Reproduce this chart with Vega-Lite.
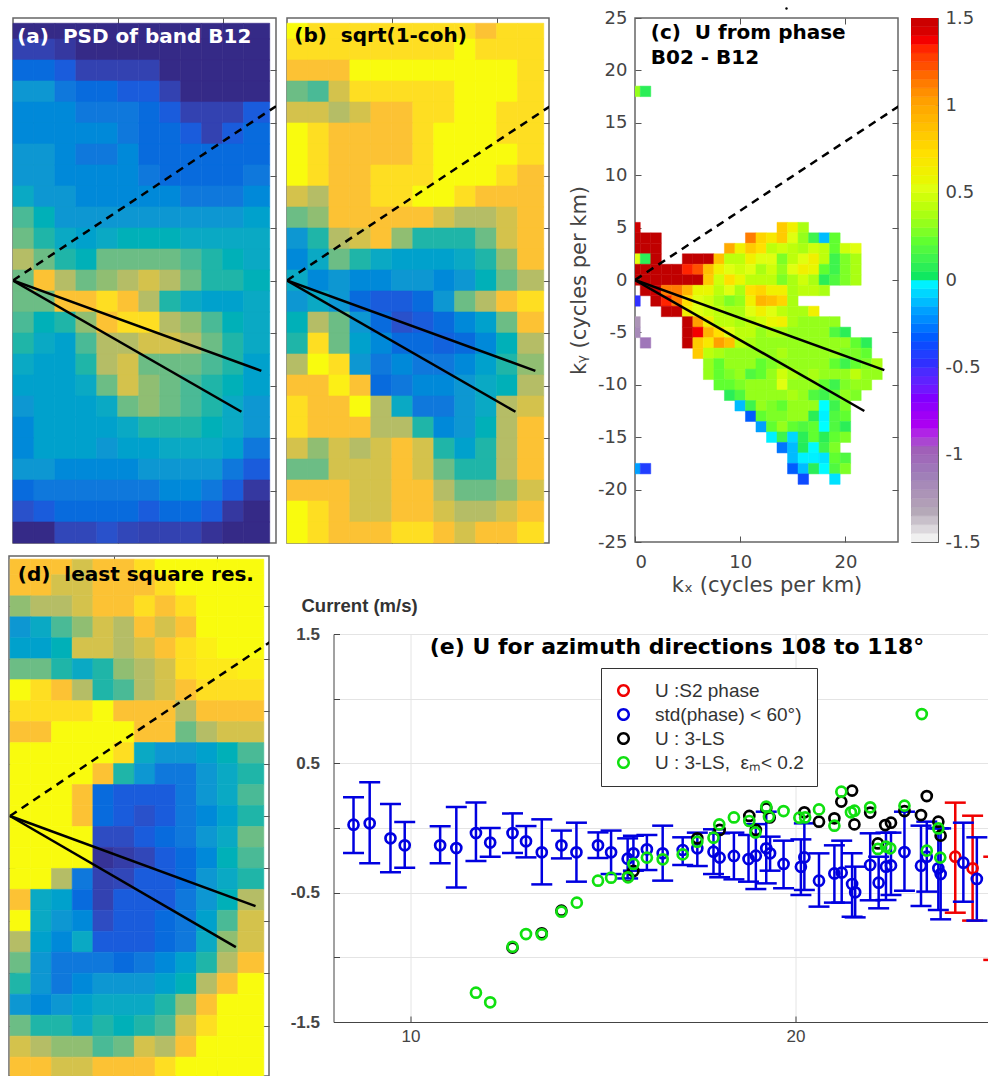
{"$schema":"https://vega.github.io/schema/vega-lite/v6.json","background":"white","padding":{"left":6,"top":6,"right":0,"bottom":0},"config":{"view":{"stroke":"#666","strokeWidth":1.5}},
"datasets":{
"sol":[{"g":1,"x":0,"y":0},{"g":1,"x":23.7,"y":-8.6},{"g":2,"x":0,"y":0},{"g":2,"x":21.8,"y":-12.5}],
"dash":[{"x":0,"y":0},{"x":25.1,"y":16.6}],
"bar":[{"v":-1.5},{"v":-1.45},{"v":-1.4},{"v":-1.35},{"v":-1.3},{"v":-1.25},{"v":-1.2},{"v":-1.15},{"v":-1.1},{"v":-1.05},{"v":-1},{"v":-0.95},{"v":-0.9},{"v":-0.85},{"v":-0.8},{"v":-0.75},{"v":-0.7},{"v":-0.65},{"v":-0.6},{"v":-0.55},{"v":-0.5},{"v":-0.45},{"v":-0.4},{"v":-0.35},{"v":-0.3},{"v":-0.25},{"v":-0.2},{"v":-0.15},{"v":-0.1},{"v":-0.05},{"v":0},{"v":0.05},{"v":0.1},{"v":0.15},{"v":0.2},{"v":0.25},{"v":0.3},{"v":0.35},{"v":0.4},{"v":0.45},{"v":0.5},{"v":0.55},{"v":0.6},{"v":0.65},{"v":0.7},{"v":0.75},{"v":0.8},{"v":0.85},{"v":0.9},{"v":0.95},{"v":1},{"v":1.05},{"v":1.1},{"v":1.15},{"v":1.2},{"v":1.25},{"v":1.3},{"v":1.35},{"v":1.4},{"v":1.45}],
"a":[
{"x":0,"y":23,"v":0},{"x":2,"y":23,"v":0},{"x":4,"y":23,"v":0},{"x":6,"y":23,"v":0},{"x":8,"y":23,"v":0},{"x":10,"y":23,"v":0},{"x":12,"y":23,"v":0},{"x":14,"y":23,"v":0},{"x":16,"y":23,"v":0},{"x":18,"y":23,"v":0},{"x":20,"y":23,"v":0},{"x":22,"y":23,"v":0},
{"x":0,"y":21,"v":0.5},{"x":2,"y":21,"v":0.5},{"x":4,"y":21,"v":0.3},{"x":6,"y":21,"v":0},{"x":8,"y":21,"v":0},{"x":10,"y":21,"v":0},{"x":12,"y":21,"v":0},{"x":14,"y":21,"v":0},{"x":16,"y":21,"v":0},{"x":18,"y":21,"v":0},{"x":20,"y":21,"v":0},{"x":22,"y":21,"v":0},
{"x":0,"y":19,"v":1.5},{"x":2,"y":19,"v":1.5},{"x":4,"y":19,"v":1},{"x":6,"y":19,"v":0.5},{"x":8,"y":19,"v":0.5},{"x":10,"y":19,"v":0.5},{"x":12,"y":19,"v":0.5},{"x":14,"y":19,"v":0},{"x":16,"y":19,"v":0},{"x":18,"y":19,"v":0},{"x":20,"y":19,"v":0},{"x":22,"y":19,"v":0},
{"x":0,"y":17,"v":3},{"x":2,"y":17,"v":3},{"x":4,"y":17,"v":2},{"x":6,"y":17,"v":1.5},{"x":8,"y":17,"v":1.5},{"x":10,"y":17,"v":1},{"x":12,"y":17,"v":1},{"x":14,"y":17,"v":0.5},{"x":16,"y":17,"v":0},{"x":18,"y":17,"v":0},{"x":20,"y":17,"v":0},{"x":22,"y":17,"v":0},
{"x":0,"y":15,"v":2.5},{"x":2,"y":15,"v":2.5},{"x":4,"y":15,"v":2.5},{"x":6,"y":15,"v":2},{"x":8,"y":15,"v":2},{"x":10,"y":15,"v":2},{"x":12,"y":15,"v":1.5},{"x":14,"y":15,"v":1},{"x":16,"y":15,"v":0.5},{"x":18,"y":15,"v":0.5},{"x":20,"y":15,"v":0.5},{"x":22,"y":15,"v":1},
{"x":0,"y":13,"v":2.5},{"x":2,"y":13,"v":2.5},{"x":4,"y":13,"v":2.5},{"x":6,"y":13,"v":2.5},{"x":8,"y":13,"v":2.5},{"x":10,"y":13,"v":2},{"x":12,"y":13,"v":1.5},{"x":14,"y":13,"v":1.5},{"x":16,"y":13,"v":1},{"x":18,"y":13,"v":0.5},{"x":20,"y":13,"v":1},{"x":22,"y":13,"v":1.5},
{"x":0,"y":11,"v":3},{"x":2,"y":11,"v":3},{"x":4,"y":11,"v":2.5},{"x":6,"y":11,"v":2},{"x":8,"y":11,"v":2},{"x":10,"y":11,"v":2.5},{"x":12,"y":11,"v":1.5},{"x":14,"y":11,"v":1.5},{"x":16,"y":11,"v":1.5},{"x":18,"y":11,"v":1.5},{"x":20,"y":11,"v":1.5},{"x":22,"y":11,"v":1.5},
{"x":0,"y":9,"v":3},{"x":2,"y":9,"v":3},{"x":4,"y":9,"v":2.5},{"x":6,"y":9,"v":2.5},{"x":8,"y":9,"v":2.5},{"x":10,"y":9,"v":2.5},{"x":12,"y":9,"v":2},{"x":14,"y":9,"v":1.5},{"x":16,"y":9,"v":1.5},{"x":18,"y":9,"v":1.5},{"x":20,"y":9,"v":1.5},{"x":22,"y":9,"v":2},
{"x":0,"y":7,"v":4},{"x":2,"y":7,"v":3},{"x":4,"y":7,"v":3},{"x":6,"y":7,"v":2.5},{"x":8,"y":7,"v":2.5},{"x":10,"y":7,"v":2.5},{"x":12,"y":7,"v":2.5},{"x":14,"y":7,"v":2.5},{"x":16,"y":7,"v":2},{"x":18,"y":7,"v":2},{"x":20,"y":7,"v":2},{"x":22,"y":7,"v":2.5},
{"x":0,"y":5,"v":5.5},{"x":2,"y":5,"v":4.5},{"x":4,"y":5,"v":3},{"x":6,"y":5,"v":3},{"x":8,"y":5,"v":3},{"x":10,"y":5,"v":3},{"x":12,"y":5,"v":3},{"x":14,"y":5,"v":3},{"x":16,"y":5,"v":3},{"x":18,"y":5,"v":3},{"x":20,"y":5,"v":3},{"x":22,"y":5,"v":3.5},
{"x":0,"y":3,"v":6},{"x":2,"y":3,"v":5},{"x":4,"y":3,"v":4},{"x":6,"y":3,"v":3.5},{"x":8,"y":3,"v":4},{"x":10,"y":3,"v":4.5},{"x":12,"y":3,"v":4.5},{"x":14,"y":3,"v":4.5},{"x":16,"y":3,"v":4},{"x":18,"y":3,"v":4},{"x":20,"y":3,"v":4},{"x":22,"y":3,"v":4},
{"x":0,"y":1,"v":7},{"x":2,"y":1,"v":6},{"x":4,"y":1,"v":5},{"x":6,"y":1,"v":4.5},{"x":8,"y":1,"v":6},{"x":10,"y":1,"v":6},{"x":12,"y":1,"v":6},{"x":14,"y":1,"v":6},{"x":16,"y":1,"v":5.5},{"x":18,"y":1,"v":5},{"x":20,"y":1,"v":4.5},{"x":22,"y":1,"v":4},
{"x":0,"y":-1,"v":6},{"x":2,"y":-1,"v":8},{"x":4,"y":-1,"v":7},{"x":6,"y":-1,"v":6},{"x":8,"y":-1,"v":6.5},{"x":10,"y":-1,"v":7},{"x":12,"y":-1,"v":7.5},{"x":14,"y":-1,"v":7},{"x":16,"y":-1,"v":6},{"x":18,"y":-1,"v":5},{"x":20,"y":-1,"v":5},{"x":22,"y":-1,"v":4.5},
{"x":0,"y":-3,"v":6},{"x":2,"y":-3,"v":6},{"x":4,"y":-3,"v":8},{"x":6,"y":-3,"v":8},{"x":8,"y":-3,"v":8.5},{"x":10,"y":-3,"v":8},{"x":12,"y":-3,"v":7},{"x":14,"y":-3,"v":5},{"x":16,"y":-3,"v":4},{"x":18,"y":-3,"v":3.5},{"x":20,"y":-3,"v":3.5},{"x":22,"y":-3,"v":4},
{"x":0,"y":-5,"v":5.5},{"x":2,"y":-5,"v":4.5},{"x":4,"y":-5,"v":5},{"x":6,"y":-5,"v":6.5},{"x":8,"y":-5,"v":8},{"x":10,"y":-5,"v":8.5},{"x":12,"y":-5,"v":8.5},{"x":14,"y":-5,"v":7},{"x":16,"y":-5,"v":6.5},{"x":18,"y":-5,"v":5.5},{"x":20,"y":-5,"v":4.5},{"x":22,"y":-5,"v":4},
{"x":0,"y":-7,"v":5},{"x":2,"y":-7,"v":4},{"x":4,"y":-7,"v":3.5},{"x":6,"y":-7,"v":5.5},{"x":8,"y":-7,"v":7},{"x":10,"y":-7,"v":7},{"x":12,"y":-7,"v":7.5},{"x":14,"y":-7,"v":7.5},{"x":16,"y":-7,"v":7},{"x":18,"y":-7,"v":6},{"x":20,"y":-7,"v":5},{"x":22,"y":-7,"v":4},
{"x":0,"y":-9,"v":4},{"x":2,"y":-9,"v":3.5},{"x":4,"y":-9,"v":3.5},{"x":6,"y":-9,"v":5},{"x":8,"y":-9,"v":7},{"x":10,"y":-9,"v":7.5},{"x":12,"y":-9,"v":6},{"x":14,"y":-9,"v":6},{"x":16,"y":-9,"v":6},{"x":18,"y":-9,"v":5.5},{"x":20,"y":-9,"v":5},{"x":22,"y":-9,"v":3.5},
{"x":0,"y":-11,"v":3.5},{"x":2,"y":-11,"v":3.5},{"x":4,"y":-11,"v":3.5},{"x":6,"y":-11,"v":4},{"x":8,"y":-11,"v":6},{"x":10,"y":-11,"v":7.5},{"x":12,"y":-11,"v":6.5},{"x":14,"y":-11,"v":6},{"x":16,"y":-11,"v":5.5},{"x":18,"y":-11,"v":5},{"x":20,"y":-11,"v":4.5},{"x":22,"y":-11,"v":3.5},
{"x":0,"y":-13,"v":3},{"x":2,"y":-13,"v":3.5},{"x":4,"y":-13,"v":3.5},{"x":6,"y":-13,"v":3.5},{"x":8,"y":-13,"v":4},{"x":10,"y":-13,"v":6},{"x":12,"y":-13,"v":6.5},{"x":14,"y":-13,"v":6},{"x":16,"y":-13,"v":5.5},{"x":18,"y":-13,"v":5},{"x":20,"y":-13,"v":4},{"x":22,"y":-13,"v":3},
{"x":0,"y":-15,"v":2.5},{"x":2,"y":-15,"v":3.5},{"x":4,"y":-15,"v":3.5},{"x":6,"y":-15,"v":3.5},{"x":8,"y":-15,"v":3.5},{"x":10,"y":-15,"v":4},{"x":12,"y":-15,"v":5},{"x":14,"y":-15,"v":5},{"x":16,"y":-15,"v":5},{"x":18,"y":-15,"v":4.5},{"x":20,"y":-15,"v":4},{"x":22,"y":-15,"v":3},
{"x":0,"y":-17,"v":2.5},{"x":2,"y":-17,"v":3.5},{"x":4,"y":-17,"v":3.5},{"x":6,"y":-17,"v":3.5},{"x":8,"y":-17,"v":3},{"x":10,"y":-17,"v":3.5},{"x":12,"y":-17,"v":3.5},{"x":14,"y":-17,"v":4},{"x":16,"y":-17,"v":4},{"x":18,"y":-17,"v":4},{"x":20,"y":-17,"v":3.5},{"x":22,"y":-17,"v":2},
{"x":0,"y":-19,"v":3},{"x":2,"y":-19,"v":3},{"x":4,"y":-19,"v":2.5},{"x":6,"y":-19,"v":2.5},{"x":8,"y":-19,"v":2.5},{"x":10,"y":-19,"v":2.5},{"x":12,"y":-19,"v":3},{"x":14,"y":-19,"v":3},{"x":16,"y":-19,"v":3},{"x":18,"y":-19,"v":3},{"x":20,"y":-19,"v":2},{"x":22,"y":-19,"v":1},
{"x":0,"y":-21,"v":1.5},{"x":2,"y":-21,"v":2},{"x":4,"y":-21,"v":2},{"x":6,"y":-21,"v":2},{"x":8,"y":-21,"v":2},{"x":10,"y":-21,"v":2},{"x":12,"y":-21,"v":2},{"x":14,"y":-21,"v":2.5},{"x":16,"y":-21,"v":2.5},{"x":18,"y":-21,"v":2},{"x":20,"y":-21,"v":1},{"x":22,"y":-21,"v":0.3},
{"x":0,"y":-23,"v":0.8},{"x":2,"y":-23,"v":1},{"x":4,"y":-23,"v":1.5},{"x":6,"y":-23,"v":1.5},{"x":8,"y":-23,"v":1.5},{"x":10,"y":-23,"v":1.5},{"x":12,"y":-23,"v":1},{"x":14,"y":-23,"v":1.5},{"x":16,"y":-23,"v":1.5},{"x":18,"y":-23,"v":1},{"x":20,"y":-23,"v":0.3},{"x":22,"y":-23,"v":0},
{"x":0,"y":-25,"v":0},{"x":2,"y":-25,"v":0},{"x":4,"y":-25,"v":0.6},{"x":6,"y":-25,"v":0.6},{"x":8,"y":-25,"v":0.8},{"x":10,"y":-25,"v":0.6},{"x":12,"y":-25,"v":0.5},{"x":14,"y":-25,"v":0.5},{"x":16,"y":-25,"v":0.5},{"x":18,"y":-25,"v":0.2},{"x":20,"y":-25,"v":0},{"x":22,"y":-25,"v":0}
],
"b":[
{"x":0,"y":23,"v":9},{"x":2,"y":23,"v":8.5},{"x":4,"y":23,"v":8.5},{"x":6,"y":23,"v":8.5},{"x":8,"y":23,"v":8.5},{"x":10,"y":23,"v":8.5},{"x":12,"y":23,"v":8.5},{"x":14,"y":23,"v":8.5},{"x":16,"y":23,"v":8.5},{"x":18,"y":23,"v":8},{"x":20,"y":23,"v":8.5},{"x":22,"y":23,"v":8.5},
{"x":0,"y":21,"v":8.5},{"x":2,"y":21,"v":8.5},{"x":4,"y":21,"v":8.5},{"x":6,"y":21,"v":8.5},{"x":8,"y":21,"v":8.5},{"x":10,"y":21,"v":8.5},{"x":12,"y":21,"v":8.5},{"x":14,"y":21,"v":8.5},{"x":16,"y":21,"v":9},{"x":18,"y":21,"v":8.5},{"x":20,"y":21,"v":8.5},{"x":22,"y":21,"v":8.5},
{"x":0,"y":19,"v":8},{"x":2,"y":19,"v":8},{"x":4,"y":19,"v":8},{"x":6,"y":19,"v":9},{"x":8,"y":19,"v":9},{"x":10,"y":19,"v":9},{"x":12,"y":19,"v":9},{"x":14,"y":19,"v":9},{"x":16,"y":19,"v":9},{"x":18,"y":19,"v":9},{"x":20,"y":19,"v":9},{"x":22,"y":19,"v":8.5},
{"x":0,"y":17,"v":6},{"x":2,"y":17,"v":5.5},{"x":4,"y":17,"v":7.5},{"x":6,"y":17,"v":8.5},{"x":8,"y":17,"v":8.5},{"x":10,"y":17,"v":8.5},{"x":12,"y":17,"v":8.5},{"x":14,"y":17,"v":8.5},{"x":16,"y":17,"v":9},{"x":18,"y":17,"v":9},{"x":20,"y":17,"v":9},{"x":22,"y":17,"v":8.5},
{"x":0,"y":15,"v":7.5},{"x":2,"y":15,"v":7.5},{"x":4,"y":15,"v":7},{"x":6,"y":15,"v":7.5},{"x":8,"y":15,"v":8},{"x":10,"y":15,"v":8},{"x":12,"y":15,"v":8.5},{"x":14,"y":15,"v":8.5},{"x":16,"y":15,"v":9},{"x":18,"y":15,"v":9},{"x":20,"y":15,"v":8.5},{"x":22,"y":15,"v":8.5},
{"x":0,"y":13,"v":9},{"x":2,"y":13,"v":8.5},{"x":4,"y":13,"v":8},{"x":6,"y":13,"v":8},{"x":8,"y":13,"v":8},{"x":10,"y":13,"v":8},{"x":12,"y":13,"v":8.5},{"x":14,"y":13,"v":9},{"x":16,"y":13,"v":9},{"x":18,"y":13,"v":9},{"x":20,"y":13,"v":8.5},{"x":22,"y":13,"v":8.5},
{"x":0,"y":11,"v":9},{"x":2,"y":11,"v":8.5},{"x":4,"y":11,"v":8},{"x":6,"y":11,"v":8},{"x":8,"y":11,"v":8},{"x":10,"y":11,"v":8},{"x":12,"y":11,"v":8.5},{"x":14,"y":11,"v":9},{"x":16,"y":11,"v":9},{"x":18,"y":11,"v":9},{"x":20,"y":11,"v":9},{"x":22,"y":11,"v":8.5},
{"x":0,"y":9,"v":9},{"x":2,"y":9,"v":8.5},{"x":4,"y":9,"v":8},{"x":6,"y":9,"v":8},{"x":8,"y":9,"v":8.5},{"x":10,"y":9,"v":8.5},{"x":12,"y":9,"v":8.5},{"x":14,"y":9,"v":9},{"x":16,"y":9,"v":9},{"x":18,"y":9,"v":9},{"x":20,"y":9,"v":8.5},{"x":22,"y":9,"v":8},
{"x":0,"y":7,"v":7.5},{"x":2,"y":7,"v":7},{"x":4,"y":7,"v":8},{"x":6,"y":7,"v":8},{"x":8,"y":7,"v":8.5},{"x":10,"y":7,"v":8.5},{"x":12,"y":7,"v":9},{"x":14,"y":7,"v":9},{"x":16,"y":7,"v":8.5},{"x":18,"y":7,"v":8},{"x":20,"y":7,"v":8},{"x":22,"y":7,"v":8},
{"x":0,"y":5,"v":6},{"x":2,"y":5,"v":6.5},{"x":4,"y":5,"v":8},{"x":6,"y":5,"v":8},{"x":8,"y":5,"v":8},{"x":10,"y":5,"v":8},{"x":12,"y":5,"v":8},{"x":14,"y":5,"v":7.5},{"x":16,"y":5,"v":7},{"x":18,"y":5,"v":7},{"x":20,"y":5,"v":7.5},{"x":22,"y":5,"v":8},
{"x":0,"y":3,"v":3},{"x":2,"y":3,"v":5},{"x":4,"y":3,"v":7},{"x":6,"y":3,"v":7.5},{"x":8,"y":3,"v":8},{"x":10,"y":3,"v":6.5},{"x":12,"y":3,"v":5},{"x":14,"y":3,"v":5},{"x":16,"y":3,"v":5},{"x":18,"y":3,"v":6},{"x":20,"y":3,"v":7.5},{"x":22,"y":3,"v":8},
{"x":0,"y":1,"v":2.5},{"x":2,"y":1,"v":4},{"x":4,"y":1,"v":6},{"x":6,"y":1,"v":5},{"x":8,"y":1,"v":4},{"x":10,"y":1,"v":3.5},{"x":12,"y":1,"v":3.5},{"x":14,"y":1,"v":3.5},{"x":16,"y":1,"v":4},{"x":18,"y":1,"v":5},{"x":20,"y":1,"v":6.5},{"x":22,"y":1,"v":8},
{"x":0,"y":-1,"v":4},{"x":2,"y":-1,"v":2.5},{"x":4,"y":-1,"v":3},{"x":6,"y":-1,"v":2.5},{"x":8,"y":-1,"v":2.5},{"x":10,"y":-1,"v":3},{"x":12,"y":-1,"v":3},{"x":14,"y":-1,"v":2.5},{"x":16,"y":-1,"v":3},{"x":18,"y":-1,"v":4.5},{"x":20,"y":-1,"v":6},{"x":22,"y":-1,"v":7},
{"x":0,"y":-3,"v":3},{"x":2,"y":-3,"v":4},{"x":4,"y":-3,"v":3},{"x":6,"y":-3,"v":1.5},{"x":8,"y":-3,"v":1},{"x":10,"y":-3,"v":1},{"x":12,"y":-3,"v":1.5},{"x":14,"y":-3,"v":3},{"x":16,"y":-3,"v":6},{"x":18,"y":-3,"v":7},{"x":20,"y":-3,"v":8},{"x":22,"y":-3,"v":8.5},
{"x":0,"y":-5,"v":4.5},{"x":2,"y":-5,"v":7},{"x":4,"y":-5,"v":6},{"x":6,"y":-5,"v":3},{"x":8,"y":-5,"v":1.5},{"x":10,"y":-5,"v":0.8},{"x":12,"y":-5,"v":1},{"x":14,"y":-5,"v":1.5},{"x":16,"y":-5,"v":2.5},{"x":18,"y":-5,"v":3.5},{"x":20,"y":-5,"v":6},{"x":22,"y":-5,"v":8},
{"x":0,"y":-7,"v":5},{"x":2,"y":-7,"v":8.5},{"x":4,"y":-7,"v":6},{"x":6,"y":-7,"v":3.5},{"x":8,"y":-7,"v":2.5},{"x":10,"y":-7,"v":1.5},{"x":12,"y":-7,"v":1.5},{"x":14,"y":-7,"v":1.2},{"x":16,"y":-7,"v":1.5},{"x":18,"y":-7,"v":2.5},{"x":20,"y":-7,"v":4.5},{"x":22,"y":-7,"v":7},
{"x":0,"y":-9,"v":7},{"x":2,"y":-9,"v":9},{"x":4,"y":-9,"v":8.5},{"x":6,"y":-9,"v":3},{"x":8,"y":-9,"v":2},{"x":10,"y":-9,"v":2.5},{"x":12,"y":-9,"v":2},{"x":14,"y":-9,"v":2},{"x":16,"y":-9,"v":2.5},{"x":18,"y":-9,"v":3.5},{"x":20,"y":-9,"v":5},{"x":22,"y":-9,"v":6.5},
{"x":0,"y":-11,"v":8},{"x":2,"y":-11,"v":8},{"x":4,"y":-11,"v":8.8},{"x":6,"y":-11,"v":8},{"x":8,"y":-11,"v":1.5},{"x":10,"y":-11,"v":2},{"x":12,"y":-11,"v":2.5},{"x":14,"y":-11,"v":2.5},{"x":16,"y":-11,"v":3},{"x":18,"y":-11,"v":4},{"x":20,"y":-11,"v":4.5},{"x":22,"y":-11,"v":7},
{"x":0,"y":-13,"v":8.5},{"x":2,"y":-13,"v":8},{"x":4,"y":-13,"v":8},{"x":6,"y":-13,"v":9},{"x":8,"y":-13,"v":7},{"x":10,"y":-13,"v":4},{"x":12,"y":-13,"v":2},{"x":14,"y":-13,"v":2},{"x":16,"y":-13,"v":3},{"x":18,"y":-13,"v":4},{"x":20,"y":-13,"v":7},{"x":22,"y":-13,"v":7.5},
{"x":0,"y":-15,"v":8.5},{"x":2,"y":-15,"v":8},{"x":4,"y":-15,"v":8},{"x":6,"y":-15,"v":8},{"x":8,"y":-15,"v":7},{"x":10,"y":-15,"v":7},{"x":12,"y":-15,"v":5},{"x":14,"y":-15,"v":2.5},{"x":16,"y":-15,"v":3},{"x":18,"y":-15,"v":4.5},{"x":20,"y":-15,"v":7},{"x":22,"y":-15,"v":8},
{"x":0,"y":-17,"v":7.5},{"x":2,"y":-17,"v":6.5},{"x":4,"y":-17,"v":7.5},{"x":6,"y":-17,"v":7},{"x":8,"y":-17,"v":7.5},{"x":10,"y":-17,"v":8},{"x":12,"y":-17,"v":7.5},{"x":14,"y":-17,"v":5},{"x":16,"y":-17,"v":3.5},{"x":18,"y":-17,"v":5},{"x":20,"y":-17,"v":7},{"x":22,"y":-17,"v":8},
{"x":0,"y":-19,"v":6},{"x":2,"y":-19,"v":6},{"x":4,"y":-19,"v":7.5},{"x":6,"y":-19,"v":7.5},{"x":8,"y":-19,"v":7.5},{"x":10,"y":-19,"v":8},{"x":12,"y":-19,"v":7.5},{"x":14,"y":-19,"v":6},{"x":16,"y":-19,"v":5},{"x":18,"y":-19,"v":5},{"x":20,"y":-19,"v":7},{"x":22,"y":-19,"v":8},
{"x":0,"y":-21,"v":8},{"x":2,"y":-21,"v":8},{"x":4,"y":-21,"v":8},{"x":6,"y":-21,"v":7.5},{"x":8,"y":-21,"v":7.5},{"x":10,"y":-21,"v":8},{"x":12,"y":-21,"v":8},{"x":14,"y":-21,"v":7},{"x":16,"y":-21,"v":6},{"x":18,"y":-21,"v":6},{"x":20,"y":-21,"v":6.5},{"x":22,"y":-21,"v":7.5},
{"x":0,"y":-23,"v":9},{"x":2,"y":-23,"v":8.5},{"x":4,"y":-23,"v":8},{"x":6,"y":-23,"v":7.5},{"x":8,"y":-23,"v":7.5},{"x":10,"y":-23,"v":8},{"x":12,"y":-23,"v":8},{"x":14,"y":-23,"v":7.5},{"x":16,"y":-23,"v":7},{"x":18,"y":-23,"v":7},{"x":20,"y":-23,"v":7.5},{"x":22,"y":-23,"v":8},
{"x":0,"y":-25,"v":9},{"x":2,"y":-25,"v":8.5},{"x":4,"y":-25,"v":8},{"x":6,"y":-25,"v":8},{"x":8,"y":-25,"v":8},{"x":10,"y":-25,"v":8.5},{"x":12,"y":-25,"v":8.5},{"x":14,"y":-25,"v":8},{"x":16,"y":-25,"v":7.5},{"x":18,"y":-25,"v":8},{"x":20,"y":-25,"v":8},{"x":22,"y":-25,"v":8.5}
],
"d":[
{"x":0,"y":23,"v":8},{"x":2,"y":23,"v":8},{"x":4,"y":23,"v":8},{"x":6,"y":23,"v":7.5},{"x":8,"y":23,"v":8},{"x":10,"y":23,"v":8},{"x":12,"y":23,"v":8.5},{"x":14,"y":23,"v":9},{"x":16,"y":23,"v":9},{"x":18,"y":23,"v":9},{"x":20,"y":23,"v":9},{"x":22,"y":23,"v":9},
{"x":0,"y":21,"v":8},{"x":2,"y":21,"v":8},{"x":4,"y":21,"v":7.5},{"x":6,"y":21,"v":7.5},{"x":8,"y":21,"v":8},{"x":10,"y":21,"v":8},{"x":12,"y":21,"v":8},{"x":14,"y":21,"v":8.5},{"x":16,"y":21,"v":9},{"x":18,"y":21,"v":9},{"x":20,"y":21,"v":9},{"x":22,"y":21,"v":9},
{"x":0,"y":19,"v":6.5},{"x":2,"y":19,"v":7},{"x":4,"y":19,"v":7},{"x":6,"y":19,"v":7.5},{"x":8,"y":19,"v":8},{"x":10,"y":19,"v":8},{"x":12,"y":19,"v":8.5},{"x":14,"y":19,"v":8},{"x":16,"y":19,"v":8.5},{"x":18,"y":19,"v":9},{"x":20,"y":19,"v":9},{"x":22,"y":19,"v":9},
{"x":0,"y":17,"v":3},{"x":2,"y":17,"v":4},{"x":4,"y":17,"v":5.5},{"x":6,"y":17,"v":6.5},{"x":8,"y":17,"v":7.5},{"x":10,"y":17,"v":7},{"x":12,"y":17,"v":8},{"x":14,"y":17,"v":7.5},{"x":16,"y":17,"v":8},{"x":18,"y":17,"v":9},{"x":20,"y":17,"v":9},{"x":22,"y":17,"v":9},
{"x":0,"y":15,"v":3.5},{"x":2,"y":15,"v":3.5},{"x":4,"y":15,"v":4.5},{"x":6,"y":15,"v":7.5},{"x":8,"y":15,"v":7.5},{"x":10,"y":15,"v":7},{"x":12,"y":15,"v":7.5},{"x":14,"y":15,"v":8},{"x":16,"y":15,"v":8.5},{"x":18,"y":15,"v":8.8},{"x":20,"y":15,"v":9},{"x":22,"y":15,"v":9},
{"x":0,"y":13,"v":6},{"x":2,"y":13,"v":6},{"x":4,"y":13,"v":5},{"x":6,"y":13,"v":4},{"x":8,"y":13,"v":5},{"x":10,"y":13,"v":6.5},{"x":12,"y":13,"v":7},{"x":14,"y":13,"v":7.5},{"x":16,"y":13,"v":8.5},{"x":18,"y":13,"v":8.7},{"x":20,"y":13,"v":8.7},{"x":22,"y":13,"v":8.8},
{"x":0,"y":11,"v":9},{"x":2,"y":11,"v":8.5},{"x":4,"y":11,"v":8},{"x":6,"y":11,"v":7},{"x":8,"y":11,"v":5},{"x":10,"y":11,"v":5.5},{"x":12,"y":11,"v":7},{"x":14,"y":11,"v":7.5},{"x":16,"y":11,"v":8},{"x":18,"y":11,"v":8.5},{"x":20,"y":11,"v":8.5},{"x":22,"y":11,"v":8.5},
{"x":0,"y":9,"v":8.5},{"x":2,"y":9,"v":8.5},{"x":4,"y":9,"v":8.5},{"x":6,"y":9,"v":8.5},{"x":8,"y":9,"v":9},{"x":10,"y":9,"v":8},{"x":12,"y":9,"v":8},{"x":14,"y":9,"v":8},{"x":16,"y":9,"v":7},{"x":18,"y":9,"v":8},{"x":20,"y":9,"v":8},{"x":22,"y":9,"v":8},
{"x":0,"y":7,"v":8},{"x":2,"y":7,"v":8},{"x":4,"y":7,"v":9},{"x":6,"y":7,"v":9},{"x":8,"y":7,"v":9},{"x":10,"y":7,"v":9},{"x":12,"y":7,"v":8},{"x":14,"y":7,"v":8},{"x":16,"y":7,"v":6},{"x":18,"y":7,"v":7},{"x":20,"y":7,"v":7.5},{"x":22,"y":7,"v":7.5},
{"x":0,"y":5,"v":9},{"x":2,"y":5,"v":9},{"x":4,"y":5,"v":9},{"x":6,"y":5,"v":9},{"x":8,"y":5,"v":9},{"x":10,"y":5,"v":8.5},{"x":12,"y":5,"v":4},{"x":14,"y":5,"v":3},{"x":16,"y":5,"v":3},{"x":18,"y":5,"v":3.5},{"x":20,"y":5,"v":4.5},{"x":22,"y":5,"v":5.5},
{"x":0,"y":3,"v":9},{"x":2,"y":3,"v":9},{"x":4,"y":3,"v":9},{"x":6,"y":3,"v":9},{"x":8,"y":3,"v":8},{"x":10,"y":3,"v":5},{"x":12,"y":3,"v":3},{"x":14,"y":3,"v":2},{"x":16,"y":3,"v":2},{"x":18,"y":3,"v":3},{"x":20,"y":3,"v":4},{"x":22,"y":3,"v":5},
{"x":0,"y":1,"v":9},{"x":2,"y":1,"v":9},{"x":4,"y":1,"v":9},{"x":6,"y":1,"v":8},{"x":8,"y":1,"v":1.5},{"x":10,"y":1,"v":1},{"x":12,"y":1,"v":1},{"x":14,"y":1,"v":1},{"x":16,"y":1,"v":2},{"x":18,"y":1,"v":3},{"x":20,"y":1,"v":4},{"x":22,"y":1,"v":5.5},
{"x":0,"y":-1,"v":9},{"x":2,"y":-1,"v":9},{"x":4,"y":-1,"v":9},{"x":6,"y":-1,"v":8},{"x":8,"y":-1,"v":1.5},{"x":10,"y":-1,"v":1},{"x":12,"y":-1,"v":0.8},{"x":14,"y":-1,"v":1},{"x":16,"y":-1,"v":2},{"x":18,"y":-1,"v":2.5},{"x":20,"y":-1,"v":3.5},{"x":22,"y":-1,"v":5},
{"x":0,"y":-3,"v":9},{"x":2,"y":-3,"v":9},{"x":4,"y":-3,"v":9},{"x":6,"y":-3,"v":9},{"x":8,"y":-3,"v":0.7},{"x":10,"y":-3,"v":0.7},{"x":12,"y":-3,"v":1},{"x":14,"y":-3,"v":1.5},{"x":16,"y":-3,"v":2},{"x":18,"y":-3,"v":3},{"x":20,"y":-3,"v":4},{"x":22,"y":-3,"v":6},
{"x":0,"y":-5,"v":9},{"x":2,"y":-5,"v":9},{"x":4,"y":-5,"v":9},{"x":6,"y":-5,"v":9},{"x":8,"y":-5,"v":0.2},{"x":10,"y":-5,"v":0.4},{"x":12,"y":-5,"v":0.6},{"x":14,"y":-5,"v":1},{"x":16,"y":-5,"v":1.5},{"x":18,"y":-5,"v":2.5},{"x":20,"y":-5,"v":4.5},{"x":22,"y":-5,"v":5.5},
{"x":0,"y":-7,"v":9},{"x":2,"y":-7,"v":9},{"x":4,"y":-7,"v":7},{"x":6,"y":-7,"v":2},{"x":8,"y":-7,"v":0.5},{"x":10,"y":-7,"v":0.6},{"x":12,"y":-7,"v":1},{"x":14,"y":-7,"v":1},{"x":16,"y":-7,"v":1.5},{"x":18,"y":-7,"v":3},{"x":20,"y":-7,"v":4},{"x":22,"y":-7,"v":5},
{"x":0,"y":-9,"v":8},{"x":2,"y":-9,"v":4},{"x":4,"y":-9,"v":3.5},{"x":6,"y":-9,"v":1.5},{"x":8,"y":-9,"v":0.5},{"x":10,"y":-9,"v":1},{"x":12,"y":-9,"v":1},{"x":14,"y":-9,"v":1},{"x":16,"y":-9,"v":2},{"x":18,"y":-9,"v":3},{"x":20,"y":-9,"v":4.5},{"x":22,"y":-9,"v":7},
{"x":0,"y":-11,"v":9},{"x":2,"y":-11,"v":4},{"x":4,"y":-11,"v":3},{"x":6,"y":-11,"v":2.5},{"x":8,"y":-11,"v":0.7},{"x":10,"y":-11,"v":1},{"x":12,"y":-11,"v":1},{"x":14,"y":-11,"v":1.5},{"x":16,"y":-11,"v":2},{"x":18,"y":-11,"v":3.5},{"x":20,"y":-11,"v":5.5},{"x":22,"y":-11,"v":7.5},
{"x":0,"y":-13,"v":7},{"x":2,"y":-13,"v":3.5},{"x":4,"y":-13,"v":2.5},{"x":6,"y":-13,"v":4},{"x":8,"y":-13,"v":1},{"x":10,"y":-13,"v":1},{"x":12,"y":-13,"v":1},{"x":14,"y":-13,"v":1.5},{"x":16,"y":-13,"v":2},{"x":18,"y":-13,"v":4},{"x":20,"y":-13,"v":6.5},{"x":22,"y":-13,"v":7.5},
{"x":0,"y":-15,"v":6},{"x":2,"y":-15,"v":3},{"x":4,"y":-15,"v":2},{"x":6,"y":-15,"v":2},{"x":8,"y":-15,"v":2},{"x":10,"y":-15,"v":1.5},{"x":12,"y":-15,"v":2},{"x":14,"y":-15,"v":2.5},{"x":16,"y":-15,"v":3.5},{"x":18,"y":-15,"v":5},{"x":20,"y":-15,"v":7},{"x":22,"y":-15,"v":8},
{"x":0,"y":-17,"v":5},{"x":2,"y":-17,"v":3},{"x":4,"y":-17,"v":2},{"x":6,"y":-17,"v":2.5},{"x":8,"y":-17,"v":3},{"x":10,"y":-17,"v":3},{"x":12,"y":-17,"v":3},{"x":14,"y":-17,"v":3.5},{"x":16,"y":-17,"v":4.5},{"x":18,"y":-17,"v":7},{"x":20,"y":-17,"v":8},{"x":22,"y":-17,"v":9},
{"x":0,"y":-19,"v":3},{"x":2,"y":-19,"v":2.5},{"x":4,"y":-19,"v":3},{"x":6,"y":-19,"v":3.5},{"x":8,"y":-19,"v":4},{"x":10,"y":-19,"v":4},{"x":12,"y":-19,"v":4},{"x":14,"y":-19,"v":5},{"x":16,"y":-19,"v":6.5},{"x":18,"y":-19,"v":8},{"x":20,"y":-19,"v":9},{"x":22,"y":-19,"v":9},
{"x":0,"y":-21,"v":6},{"x":2,"y":-21,"v":5},{"x":4,"y":-21,"v":5},{"x":6,"y":-21,"v":4},{"x":8,"y":-21,"v":5},{"x":10,"y":-21,"v":4.5},{"x":12,"y":-21,"v":5},{"x":14,"y":-21,"v":5.5},{"x":16,"y":-21,"v":7.5},{"x":18,"y":-21,"v":8.5},{"x":20,"y":-21,"v":9},{"x":22,"y":-21,"v":9},
{"x":0,"y":-23,"v":7.5},{"x":2,"y":-23,"v":7},{"x":4,"y":-23,"v":6.5},{"x":6,"y":-23,"v":6.5},{"x":8,"y":-23,"v":5.5},{"x":10,"y":-23,"v":6},{"x":12,"y":-23,"v":7.5},{"x":14,"y":-23,"v":7},{"x":16,"y":-23,"v":8},{"x":18,"y":-23,"v":9},{"x":20,"y":-23,"v":9},{"x":22,"y":-23,"v":9},
{"x":0,"y":-25,"v":8},{"x":2,"y":-25,"v":8},{"x":4,"y":-25,"v":7.5},{"x":6,"y":-25,"v":7.5},{"x":8,"y":-25,"v":8},{"x":10,"y":-25,"v":8},{"x":12,"y":-25,"v":8},{"x":14,"y":-25,"v":8.5},{"x":16,"y":-25,"v":9},{"x":18,"y":-25,"v":9},{"x":20,"y":-25,"v":9},{"x":22,"y":-25,"v":9}
],
"c":[
{"x":0,"y":18,"v":0.3},{"x":1,"y":18,"v":0.05},
{"x":0,"y":5,"v":1.45},{"x":14,"y":5,"v":0.8},{"x":15,"y":5,"v":0.6},{"x":16,"y":5,"v":0.35},
{"x":0,"y":4,"v":1.5},{"x":1,"y":4,"v":1.5},{"x":2,"y":4,"v":1.5},{"x":11,"y":4,"v":1.1},{"x":12,"y":4,"v":0.75},{"x":13,"y":4,"v":0.65},{"x":14,"y":4,"v":0.8},{"x":15,"y":4,"v":0.5},{"x":16,"y":4,"v":0.3},{"x":17,"y":4,"v":0.1},{"x":18,"y":4,"v":-0.15},{"x":19,"y":4,"v":0.2},
{"x":0,"y":3,"v":1.5},{"x":1,"y":3,"v":1.5},{"x":2,"y":3,"v":1.5},{"x":9,"y":3,"v":0.95},{"x":10,"y":3,"v":0.6},{"x":11,"y":3,"v":0.8},{"x":12,"y":3,"v":0.7},{"x":13,"y":3,"v":0.4},{"x":14,"y":3,"v":0.45},{"x":15,"y":3,"v":0.4},{"x":16,"y":3,"v":0.35},{"x":17,"y":3,"v":0.45},{"x":18,"y":3,"v":0.4},{"x":19,"y":3,"v":0.2},{"x":20,"y":3,"v":0.45},{"x":21,"y":3,"v":0.5},
{"x":0,"y":2,"v":0.5},{"x":1,"y":2,"v":0.05},{"x":2,"y":2,"v":1.5},{"x":5,"y":2,"v":1.5},{"x":6,"y":2,"v":1.5},{"x":7,"y":2,"v":1.5},{"x":8,"y":2,"v":0.85},{"x":9,"y":2,"v":0.4},{"x":10,"y":2,"v":0.4},{"x":11,"y":2,"v":0.6},{"x":12,"y":2,"v":0.5},{"x":13,"y":2,"v":0.5},{"x":14,"y":2,"v":0.25},{"x":15,"y":2,"v":0.4},{"x":16,"y":2,"v":0.5},{"x":17,"y":2,"v":0.6},{"x":18,"y":2,"v":0.4},{"x":19,"y":2,"v":0.1},{"x":20,"y":2,"v":0.25},{"x":21,"y":2,"v":0.35},
{"x":0,"y":1,"v":1.5},{"x":1,"y":1,"v":1.5},{"x":2,"y":1,"v":1.5},{"x":3,"y":1,"v":1.5},{"x":4,"y":1,"v":1.5},{"x":5,"y":1,"v":1.3},{"x":6,"y":1,"v":1.2},{"x":7,"y":1,"v":0.85},{"x":8,"y":1,"v":0.6},{"x":9,"y":1,"v":0.5},{"x":10,"y":1,"v":0.45},{"x":11,"y":1,"v":0.5},{"x":12,"y":1,"v":0.35},{"x":13,"y":1,"v":0.45},{"x":14,"y":1,"v":0.3},{"x":15,"y":1,"v":0.5},{"x":16,"y":1,"v":0.6},{"x":17,"y":1,"v":0.55},{"x":18,"y":1,"v":0.2},{"x":19,"y":1,"v":0.1},{"x":20,"y":1,"v":0.25},{"x":21,"y":1,"v":0.35},
{"x":0,"y":0,"v":1.5},{"x":1,"y":0,"v":1.5},{"x":2,"y":0,"v":1.5},{"x":3,"y":0,"v":1.5},{"x":4,"y":0,"v":1.5},{"x":5,"y":0,"v":1.5},{"x":6,"y":0,"v":1.5},{"x":7,"y":0,"v":0.8},{"x":8,"y":0,"v":0.45},{"x":9,"y":0,"v":0.7},{"x":10,"y":0,"v":0.55},{"x":11,"y":0,"v":0.4},{"x":12,"y":0,"v":0.4},{"x":13,"y":0,"v":0.4},{"x":14,"y":0,"v":0.25},{"x":15,"y":0,"v":0.35},{"x":16,"y":0,"v":0.45},{"x":17,"y":0,"v":0.35},{"x":18,"y":0,"v":0.05},{"x":19,"y":0,"v":0.15},{"x":20,"y":0,"v":0.25},{"x":21,"y":0,"v":0.35},
{"x":1,"y":-1,"v":1.5},{"x":2,"y":-1,"v":1.45},{"x":3,"y":-1,"v":1.1},{"x":4,"y":-1,"v":1.1},{"x":5,"y":-1,"v":0.9},{"x":6,"y":-1,"v":0.55},{"x":7,"y":-1,"v":0.55},{"x":8,"y":-1,"v":0.4},{"x":9,"y":-1,"v":0.5},{"x":10,"y":-1,"v":0.35},{"x":11,"y":-1,"v":0.7},{"x":12,"y":-1,"v":0.75},{"x":13,"y":-1,"v":0.6},{"x":14,"y":-1,"v":0.6},{"x":15,"y":-1,"v":0.35},{"x":16,"y":-1,"v":0.4},{"x":17,"y":-1,"v":0.4},{"x":18,"y":-1,"v":0.35},
{"x":0,"y":-2,"v":-0.5},{"x":2,"y":-2,"v":1.5},{"x":3,"y":-2,"v":1.3},{"x":4,"y":-2,"v":1.1},{"x":5,"y":-2,"v":0.7},{"x":6,"y":-2,"v":0.5},{"x":7,"y":-2,"v":0.45},{"x":8,"y":-2,"v":0.35},{"x":9,"y":-2,"v":0.25},{"x":10,"y":-2,"v":0.3},{"x":11,"y":-2,"v":0.6},{"x":12,"y":-2,"v":0.9},{"x":13,"y":-2,"v":0.85},{"x":14,"y":-2,"v":0.75},{"x":15,"y":-2,"v":0.35},
{"x":3,"y":-3,"v":1.5},{"x":4,"y":-3,"v":1.5},{"x":5,"y":-3,"v":0.6},{"x":6,"y":-3,"v":0.5},{"x":7,"y":-3,"v":0.45},{"x":8,"y":-3,"v":0.4},{"x":9,"y":-3,"v":0.35},{"x":10,"y":-3,"v":0.35},{"x":11,"y":-3,"v":0.5},{"x":12,"y":-3,"v":0.6},{"x":13,"y":-3,"v":0.5},{"x":14,"y":-3,"v":0.4},{"x":15,"y":-3,"v":0.35},{"x":16,"y":-3,"v":0.35},{"x":17,"y":-3,"v":0.6},
{"x":0,"y":-4,"v":-1.25},{"x":5,"y":-4,"v":1.5},{"x":6,"y":-4,"v":1},{"x":7,"y":-4,"v":0.6},{"x":8,"y":-4,"v":0.4},{"x":9,"y":-4,"v":0.4},{"x":10,"y":-4,"v":0.35},{"x":11,"y":-4,"v":0.4},{"x":12,"y":-4,"v":0.45},{"x":13,"y":-4,"v":0.55},{"x":14,"y":-4,"v":0.6},{"x":15,"y":-4,"v":0.35},{"x":16,"y":-4,"v":0.3},{"x":17,"y":-4,"v":0.3},{"x":18,"y":-4,"v":0.3},{"x":19,"y":-4,"v":0.3},
{"x":0,"y":-5,"v":-1.2},{"x":5,"y":-5,"v":1.5},{"x":6,"y":-5,"v":1.35},{"x":7,"y":-5,"v":0.9},{"x":8,"y":-5,"v":0.7},{"x":9,"y":-5,"v":0.5},{"x":10,"y":-5,"v":0.4},{"x":11,"y":-5,"v":0.4},{"x":12,"y":-5,"v":0.3},{"x":13,"y":-5,"v":0.35},{"x":14,"y":-5,"v":0.35},{"x":15,"y":-5,"v":0.3},{"x":16,"y":-5,"v":0.3},{"x":17,"y":-5,"v":0.3},{"x":18,"y":-5,"v":0.3},{"x":19,"y":-5,"v":0.15},{"x":20,"y":-5,"v":0.05},
{"x":1,"y":-6,"v":-1.1},{"x":5,"y":-6,"v":1.5},{"x":6,"y":-6,"v":0.8},{"x":7,"y":-6,"v":0.65},{"x":8,"y":-6,"v":1},{"x":9,"y":-6,"v":0.85},{"x":10,"y":-6,"v":0.4},{"x":11,"y":-6,"v":0.35},{"x":12,"y":-6,"v":0.3},{"x":13,"y":-6,"v":0.3},{"x":14,"y":-6,"v":0.3},{"x":15,"y":-6,"v":0.3},{"x":16,"y":-6,"v":0.3},{"x":17,"y":-6,"v":0.3},{"x":18,"y":-6,"v":0.3},{"x":19,"y":-6,"v":0.3},{"x":20,"y":-6,"v":0.3},{"x":21,"y":-6,"v":0.2},{"x":22,"y":-6,"v":0.05},
{"x":6,"y":-7,"v":0.8},{"x":7,"y":-7,"v":0.4},{"x":8,"y":-7,"v":0.35},{"x":9,"y":-7,"v":0.3},{"x":10,"y":-7,"v":0.3},{"x":11,"y":-7,"v":0.3},{"x":12,"y":-7,"v":0.3},{"x":13,"y":-7,"v":0.3},{"x":14,"y":-7,"v":0.35},{"x":15,"y":-7,"v":0.3},{"x":16,"y":-7,"v":0.3},{"x":17,"y":-7,"v":0.3},{"x":18,"y":-7,"v":0.3},{"x":19,"y":-7,"v":0.3},{"x":20,"y":-7,"v":0.25},{"x":21,"y":-7,"v":0.25},{"x":22,"y":-7,"v":0.2},
{"x":7,"y":-8,"v":0.3},{"x":8,"y":-8,"v":0.2},{"x":9,"y":-8,"v":0.3},{"x":10,"y":-8,"v":0.3},{"x":11,"y":-8,"v":0.3},{"x":12,"y":-8,"v":0.2},{"x":13,"y":-8,"v":0.25},{"x":14,"y":-8,"v":0.3},{"x":15,"y":-8,"v":0.3},{"x":16,"y":-8,"v":0.3},{"x":17,"y":-8,"v":0.3},{"x":18,"y":-8,"v":0.3},{"x":19,"y":-8,"v":0.2},{"x":20,"y":-8,"v":0.1},{"x":21,"y":-8,"v":0.2},{"x":22,"y":-8,"v":0.25},{"x":23,"y":-8,"v":0.35},
{"x":7,"y":-9,"v":0.3},{"x":8,"y":-9,"v":0.2},{"x":9,"y":-9,"v":0.25},{"x":10,"y":-9,"v":0.3},{"x":11,"y":-9,"v":0.15},{"x":12,"y":-9,"v":0.2},{"x":13,"y":-9,"v":0.3},{"x":14,"y":-9,"v":0.45},{"x":15,"y":-9,"v":0.35},{"x":16,"y":-9,"v":0.3},{"x":17,"y":-9,"v":0.35},{"x":18,"y":-9,"v":0.3},{"x":19,"y":-9,"v":0.3},{"x":20,"y":-9,"v":0.3},{"x":21,"y":-9,"v":0.4},{"x":22,"y":-9,"v":0.3},{"x":23,"y":-9,"v":0.3},
{"x":8,"y":-10,"v":0.2},{"x":9,"y":-10,"v":0.2},{"x":10,"y":-10,"v":0.25},{"x":11,"y":-10,"v":0.3},{"x":12,"y":-10,"v":0.3},{"x":13,"y":-10,"v":0.3},{"x":14,"y":-10,"v":0.5},{"x":15,"y":-10,"v":0.3},{"x":16,"y":-10,"v":0.3},{"x":17,"y":-10,"v":0.3},{"x":18,"y":-10,"v":0.2},{"x":19,"y":-10,"v":0.1},{"x":20,"y":-10,"v":0.25},{"x":21,"y":-10,"v":0.3},{"x":22,"y":-10,"v":0.3},
{"x":9,"y":-11,"v":0.05},{"x":10,"y":-11,"v":0.15},{"x":11,"y":-11,"v":0.3},{"x":12,"y":-11,"v":0.3},{"x":13,"y":-11,"v":0.3},{"x":14,"y":-11,"v":0.3},{"x":15,"y":-11,"v":0.35},{"x":16,"y":-11,"v":0.3},{"x":17,"y":-11,"v":0.15},{"x":18,"y":-11,"v":0.1},{"x":19,"y":-11,"v":0.2},{"x":20,"y":-11,"v":0.3},{"x":21,"y":-11,"v":0.25},
{"x":10,"y":-12,"v":-0.15},{"x":11,"y":-12,"v":0.1},{"x":12,"y":-12,"v":0.3},{"x":13,"y":-12,"v":0.25},{"x":14,"y":-12,"v":0.2},{"x":15,"y":-12,"v":0.3},{"x":16,"y":-12,"v":0.3},{"x":17,"y":-12,"v":0.3},{"x":18,"y":-12,"v":-0.02},{"x":19,"y":-12,"v":0.1},{"x":20,"y":-12,"v":0.25},
{"x":11,"y":-13,"v":-0.35},{"x":12,"y":-13,"v":0.2},{"x":13,"y":-13,"v":0.25},{"x":14,"y":-13,"v":0.25},{"x":15,"y":-13,"v":0.3},{"x":16,"y":-13,"v":0.3},{"x":17,"y":-13,"v":0.05},{"x":18,"y":-13,"v":-0.05},{"x":19,"y":-13,"v":0.15},{"x":20,"y":-13,"v":0.2},
{"x":12,"y":-14,"v":-0.2},{"x":13,"y":-14,"v":0.2},{"x":14,"y":-14,"v":0.3},{"x":15,"y":-14,"v":0.2},{"x":16,"y":-14,"v":0.15},{"x":17,"y":-14,"v":0.2},{"x":18,"y":-14,"v":-0.02},{"x":19,"y":-14,"v":0.15},{"x":20,"y":-14,"v":0.05},
{"x":13,"y":-15,"v":-0.05},{"x":14,"y":-15,"v":0.1},{"x":15,"y":-15,"v":-0.1},{"x":16,"y":-15,"v":0.05},{"x":17,"y":-15,"v":0.2},{"x":18,"y":-15,"v":0.05},{"x":19,"y":-15,"v":0.2},{"x":20,"y":-15,"v":0.25},
{"x":14,"y":-16,"v":-0.3},{"x":15,"y":-16,"v":-0.15},{"x":16,"y":-16,"v":0.03},{"x":17,"y":-16,"v":-0.03},{"x":18,"y":-16,"v":0.1},{"x":19,"y":-16,"v":0.25},
{"x":15,"y":-17,"v":-0.15},{"x":16,"y":-17,"v":-0.05},{"x":17,"y":-17,"v":-0.05},{"x":18,"y":-17,"v":-0.08},{"x":19,"y":-17,"v":0.2},{"x":20,"y":-17,"v":0.15},
{"x":0,"y":-18,"v":-0.2},{"x":1,"y":-18,"v":-0.45},{"x":15,"y":-18,"v":-0.35},{"x":16,"y":-18,"v":-0.15},{"x":17,"y":-18,"v":0.05},{"x":18,"y":-18,"v":-0.03},{"x":19,"y":-18,"v":0.15},{"x":20,"y":-18,"v":0.25},
{"x":16,"y":-19,"v":-0.4},{"x":19,"y":-19,"v":-0.08}
],
"pts":[
{"s":"b","x":8.52,"y":0.026,"hi":0.237,"lo":-0.193},{"s":"b","x":8.94,"y":0.036,"hi":0.353,"lo":-0.273},{"s":"b","x":9.48,"y":-0.08,"hi":0.186,"lo":-0.343},{"s":"b","x":9.85,"y":-0.134,"hi":0.046,"lo":-0.307},{"s":"b","x":10.77,"y":-0.134,"hi":0.013,"lo":-0.273},{"s":"b","x":11.19,"y":-0.155,"hi":0.162,"lo":-0.461},{"s":"b","x":11.7,"y":-0.039,"hi":0.198,"lo":-0.255},{"s":"b","x":12.07,"y":-0.113,"hi":0,"lo":-0.222},{"s":"b","x":12.65,"y":-0.039,"hi":0.113,"lo":-0.193},{"s":"b","x":13,"y":-0.103,"hi":0.015,"lo":-0.227},{"s":"b","x":13.41,"y":-0.188,"hi":0.067,"lo":-0.436},{"s":"b","x":13.92,"y":-0.134,"hi":-0.02,"lo":-0.235},{"s":"b","x":14.31,"y":-0.188,"hi":0.041,"lo":-0.415},{"s":"b","x":14.87,"y":-0.134,"hi":-0.034,"lo":-0.232},{"s":"b","x":15.21,"y":-0.188,"hi":-0.02,"lo":-0.356},{"s":"b","x":15.64,"y":-0.237,"hi":-0.08,"lo":-0.39},{"s":"b","x":15.79,"y":-0.196,"hi":-0.06,"lo":-0.33},{"s":"b","x":16.14,"y":-0.165,"hi":-0.054,"lo":-0.325},{"s":"b","x":16.55,"y":-0.196,"hi":0.018,"lo":-0.407},{"s":"b","x":17.07,"y":-0.17,"hi":-0.072,"lo":-0.286},{"s":"b","x":17.45,"y":-0.157,"hi":-0.036,"lo":-0.294},{"s":"b","x":17.87,"y":-0.183,"hi":-0.01,"lo":-0.356},{"s":"b","x":18.03,"y":-0.229,"hi":-0.041,"lo":-0.381},{"s":"b","x":18.4,"y":-0.216,"hi":-0.036,"lo":-0.397},{"s":"b","x":18.78,"y":-0.24,"hi":-0.054,"lo":-0.415},{"s":"b","x":18.97,"y":-0.214,"hi":0.03,"lo":-0.472},{"s":"b","x":19.24,"y":-0.157,"hi":0.126,"lo":-0.428},{"s":"b","x":19.34,"y":-0.196,"hi":-0.067,"lo":-0.33},{"s":"b","x":19.69,"y":-0.278,"hi":-0.098,"lo":-0.466},{"s":"b","x":20.14,"y":-0.3,"hi":-0.088,"lo":-0.518},{"s":"b","x":20.23,"y":-0.227,"hi":0.036,"lo":-0.479},{"s":"b","x":20.61,"y":-0.407,"hi":-0.196,"lo":-0.608},{"s":"b","x":21.01,"y":-0.351,"hi":-0.134,"lo":-0.577},{"s":"b","x":21.2,"y":-0.345,"hi":-0.098,"lo":-0.577},{"s":"b","x":21.47,"y":-0.433,"hi":-0.196,"lo":-0.686},{"s":"b","x":21.55,"y":-0.497,"hi":-0.299,"lo":-0.691},{"s":"b","x":21.94,"y":-0.286,"hi":-0.041,"lo":-0.559},{"s":"b","x":22.16,"y":-0.423,"hi":-0.222,"lo":-0.621},{"s":"b","x":22.35,"y":-0.299,"hi":-0.036,"lo":-0.557},{"s":"b","x":22.48,"y":-0.289,"hi":-0.036,"lo":-0.518},{"s":"b","x":22.83,"y":-0.186,"hi":0.126,"lo":-0.485},{"s":"b","x":23.26,"y":-0.291,"hi":0.018,"lo":-0.603},{"s":"b","x":23.41,"y":-0.222,"hi":0.049,"lo":-0.492},{"s":"b","x":23.71,"y":-0.312,"hi":-0.003,"lo":-0.634},{"s":"b","x":23.77,"y":-0.356,"hi":-0.003,"lo":-0.706},
{"s":"r","x":24.15,"y":-0.222,"hi":0.196,"lo":-0.655},{"s":"r","x":24.6,"y":-0.312,"hi":0.095,"lo":-0.716},{"s":"r","x":25.15,"y":null,"hi":-0.222,"lo":-1.02},
{"s":"b","x":24.36,"y":-0.268,"hi":0.041,"lo":-0.57},{"s":"b","x":24.71,"y":-0.394,"hi":-0.072,"lo":-0.716},
{"s":"k","x":12.65,"y":-0.925},{"s":"k","x":13.41,"y":-0.814},{"s":"k","x":13.92,"y":-0.639},{"s":"k","x":15.65,"y":-0.376},{"s":"k","x":15.79,"y":-0.332},{"s":"k","x":17.45,"y":-0.08},{"s":"k","x":18.03,"y":-0.015},{"s":"k","x":18.8,"y":0.093},{"s":"k","x":18.97,"y":-0.015},{"s":"k","x":19.24,"y":0.152},{"s":"k","x":19.33,"y":0.082},{"s":"k","x":20.23,"y":0.121},{"s":"k","x":20.61,"y":0.049},{"s":"k","x":21.01,"y":0.075},{"s":"k","x":21.19,"y":0.204},{"s":"k","x":21.47,"y":0.289},{"s":"k","x":21.53,"y":0.028},{"s":"k","x":21.94,"y":0.119},{"s":"k","x":22.14,"y":-0.119},{"s":"k","x":22.33,"y":0.023},{"s":"k","x":22.48,"y":0.041},{"s":"k","x":22.83,"y":0.131},{"s":"k","x":23.26,"y":0.1},{"s":"k","x":23.41,"y":0.247},{"s":"k","x":23.71,"y":0.049},{"s":"k","x":23.77,"y":-0.059},
{"s":"g","x":11.7,"y":-1.273},{"s":"g","x":12.07,"y":-1.348},{"s":"g","x":12.65,"y":-0.918},{"s":"g","x":13,"y":-0.82},{"s":"g","x":13.41,"y":-0.822},{"s":"g","x":13.92,"y":-0.647},{"s":"g","x":14.32,"y":-0.577},{"s":"g","x":14.87,"y":-0.407},{"s":"g","x":15.21,"y":-0.384},{"s":"g","x":15.65,"y":-0.381},{"s":"g","x":15.79,"y":-0.278},{"s":"g","x":16.14,"y":-0.229},{"s":"g","x":16.55,"y":-0.242},{"s":"g","x":17.07,"y":-0.204},{"s":"g","x":17.45,"y":-0.106},{"s":"g","x":17.87,"y":-0.075},{"s":"g","x":18.02,"y":0.028},{"s":"g","x":18.4,"y":0.082},{"s":"g","x":18.8,"y":0.054},{"s":"g","x":18.96,"y":-0.034},{"s":"g","x":19.24,"y":0.165},{"s":"g","x":19.31,"y":0.088},{"s":"g","x":19.69,"y":0.131},{"s":"g","x":20.1,"y":0.08},{"s":"g","x":20.25,"y":0.082},{"s":"g","x":20.61,"y":0.144},{"s":"g","x":21.01,"y":0.018},{"s":"g","x":21.19,"y":0.281},{"s":"g","x":21.44,"y":0.121},{"s":"g","x":21.53,"y":0.134},{"s":"g","x":21.94,"y":0.16},{"s":"g","x":22.14,"y":-0.162},{"s":"g","x":22.35,"y":-0.144},{"s":"g","x":22.46,"y":-0.157},{"s":"g","x":22.83,"y":0.173},{"s":"g","x":23.28,"y":0.881},{"s":"g","x":23.41,"y":-0.175},{"s":"g","x":23.71,"y":-0.003},{"s":"g","x":23.76,"y":-0.229}
]
},
"bounds":"flush","spacing":538,"resolve":{"scale":{"color":"independent","stroke":"independent"}},
"vconcat":[
{"bounds":"flush","spacing":278,"resolve":{"scale":{"color":"independent","stroke":"independent"}},"hconcat":[
 {"bounds":"flush","spacing":3,"resolve":{"scale":{"color":"independent","stroke":"independent"}},"hconcat":[
  {"width":1,"height":1,"view":{"stroke":null},"data":{"values":[{"q":0}]},"mark":{"type":"point","opacity":0},"encoding":{}},
  {"width":263,"height":525,"resolve":{"axis":{"x":"independent","y":"independent"}},"layer":[
   {"data":{"name":"a"},"transform":[{"calculate":"datum.x>=22?24.5:datum.x+2","as":"x2"},{"calculate":"min(datum.y+2,24.5)","as":"y2"}],"mark":{"type":"rect","strokeWidth":0.6},
    "encoding":{"x":{"field":"x","type":"quantitative","scale":{"domain":[0,25.1],"nice":false},"axis":{"values":[10,20],"labels":false,"title":null,"domain":false,"grid":false,"tickSize":-6,"tickColor":"#555"}},"x2":{"field":"x2"},
    "y":{"field":"y","type":"quantitative","scale":{"domain":[-25,25],"nice":false},"axis":{"values":[-20,-15,-10,-5,0,5,10,15,20],"labels":false,"title":null,"domain":false,"grid":false,"tickSize":-6,"tickColor":"#555"}},"y2":{"field":"y2"},
    "color":{"field":"v","type":"quantitative","legend":null,"scale":{"domain":[0,1,2,3,4,5,6,7,8,9],"range":["#352a87","#1a5cdc","#0f78dc","#0d97d2","#0aa9c4","#1fb5a8","#6cbd85","#b5bd66","#fcc234","#f9fb0e"]}},
    "stroke":{"field":"v","type":"quantitative","legend":null,"scale":{"domain":[0,1,2,3,4,5,6,7,8,9],"range":["#352a87","#1a5cdc","#0f78dc","#0d97d2","#0aa9c4","#1fb5a8","#6cbd85","#b5bd66","#fcc234","#f9fb0e"]}}}},
   {"data":{"name":"sol"},"mark":{"type":"line","color":"black","strokeWidth":2.5,"clip":true},"encoding":{"detail":{"field":"g"},"x":{"field":"x","type":"quantitative","axis":{"orient":"top","values":[10,20],"labels":false,"title":null,"domain":false,"grid":false,"tickSize":-6,"tickColor":"#555"}},"y":{"field":"y","type":"quantitative","axis":{"orient":"right","values":[-20,-15,-10,-5,0,5,10,15,20],"labels":false,"title":null,"domain":false,"grid":false,"tickSize":-6,"tickColor":"#555"}}}},
   {"data":{"name":"dash"},"mark":{"type":"line","color":"black","strokeWidth":2.5,"strokeDash":[8,6],"clip":true},"encoding":{"x":{"field":"x","type":"quantitative","axis":null},"y":{"field":"y","type":"quantitative","axis":null}}},
   {"data":{"values":[{"x":0.4,"y":23.2,"t":"(a)\u00a0\u00a0PSD of band B12"}]},"mark":{"type":"text","align":"left","baseline":"middle","font":"DejaVu Sans","fontWeight":"bold","fontSize":20,"color":"white"},"encoding":{"x":{"field":"x","type":"quantitative","axis":null},"y":{"field":"y","type":"quantitative","axis":null},"text":{"field":"t"}}}
  ]}
 ]},
 {"bounds":"flush","spacing":86,"resolve":{"scale":{"color":"independent","stroke":"independent"}},"hconcat":[
  {"width":262,"height":525,"resolve":{"axis":{"x":"independent","y":"independent"}},"layer":[
   {"data":{"name":"b"},"transform":[{"calculate":"datum.x>=22?24.5:datum.x+2","as":"x2"},{"calculate":"min(datum.y+2,24.5)","as":"y2"}],"mark":{"type":"rect","strokeWidth":0.6},
    "encoding":{"x":{"field":"x","type":"quantitative","scale":{"domain":[0,25],"nice":false},"axis":{"values":[10,20],"labels":false,"title":null,"domain":false,"grid":false,"tickSize":-6,"tickColor":"#555"}},"x2":{"field":"x2"},
    "y":{"field":"y","type":"quantitative","scale":{"domain":[-25,25],"nice":false},"axis":{"values":[-20,-15,-10,-5,0,5,10,15,20],"labels":false,"title":null,"domain":false,"grid":false,"tickSize":-6,"tickColor":"#555"}},"y2":{"field":"y2"},
    "color":{"field":"v","type":"quantitative","legend":null,"scale":{"domain":[0,1,2,3,4,5,6,7,8,9],"range":["#352a87","#1a5cdc","#0f78dc","#0d97d2","#0aa9c4","#1fb5a8","#6cbd85","#b5bd66","#fcc234","#f9fb0e"]}},
    "stroke":{"field":"v","type":"quantitative","legend":null,"scale":{"domain":[0,1,2,3,4,5,6,7,8,9],"range":["#352a87","#1a5cdc","#0f78dc","#0d97d2","#0aa9c4","#1fb5a8","#6cbd85","#b5bd66","#fcc234","#f9fb0e"]}}}},
   {"data":{"name":"sol"},"mark":{"type":"line","color":"black","strokeWidth":2.5,"clip":true},"encoding":{"detail":{"field":"g"},"x":{"field":"x","type":"quantitative","axis":{"orient":"top","values":[10,20],"labels":false,"title":null,"domain":false,"grid":false,"tickSize":-6,"tickColor":"#555"}},"y":{"field":"y","type":"quantitative","axis":{"orient":"right","values":[-20,-15,-10,-5,0,5,10,15,20],"labels":false,"title":null,"domain":false,"grid":false,"tickSize":-6,"tickColor":"#555"}}}},
   {"data":{"name":"dash"},"mark":{"type":"line","color":"black","strokeWidth":2.5,"strokeDash":[8,6],"clip":true},"encoding":{"x":{"field":"x","type":"quantitative","axis":null},"y":{"field":"y","type":"quantitative","axis":null}}},
   {"data":{"values":[{"x":0.7,"y":23.3,"t":"(b)\u00a0\u00a0sqrt(1-coh)"}]},"mark":{"type":"text","align":"left","baseline":"middle","font":"DejaVu Sans","fontWeight":"bold","fontSize":20,"color":"black"},"encoding":{"x":{"field":"x","type":"quantitative","axis":null},"y":{"field":"y","type":"quantitative","axis":null},"text":{"field":"t"}}}
  ]},
  {"bounds":"flush","spacing":13,"resolve":{"scale":{"color":"independent","stroke":"independent"}},"hconcat":[
  {"width":263,"height":524,"resolve":{"axis":{"x":"independent","y":"independent"}},"layer":[
   {"data":{"name":"c"},"transform":[{"calculate":"datum.x-0.5","as":"x1"},{"calculate":"datum.x+0.5","as":"x2"},{"calculate":"datum.y-0.5","as":"y1"},{"calculate":"datum.y+0.5","as":"y2"}],"mark":{"type":"rect","strokeWidth":0.5,"clip":true},
    "encoding":{"x":{"field":"x1","type":"quantitative","scale":{"domain":[0,25],"nice":false},"axis":{"values":[0,10,20],"title":"kₓ (cycles per km)","titleFont":"DejaVu Sans","titleFontWeight":"normal","titleFontSize":21,"titleColor":"#444","titlePadding":3,"labelFont":"DejaVu Sans","labelFontSize":18,"labelColor":"#444","labelPadding":17,"domain":false,"grid":false,"tickSize":-6,"tickColor":"#555"}},"x2":{"field":"x2"},
    "y":{"field":"y1","type":"quantitative","scale":{"domain":[-25,25],"nice":false},"axis":{"values":[-25,-20,-15,-10,-5,0,5,10,15,20,25],"labelExpr":"''+datum.value","title":"kᵧ (cycles per km)","titleFont":"DejaVu Sans","titleFontWeight":"normal","titleFontSize":21,"titleColor":"#444","titlePadding":8,"labelFont":"DejaVu Sans","labelFontSize":18,"labelColor":"#444","labelPadding":14,"domain":false,"grid":false,"tickSize":-6,"tickColor":"#555"}},"y2":{"field":"y2"},
    "color":{"field":"v","type":"quantitative","legend":null,"scale":{"domain":[-1.5,-1.35,-1.15,-1,-0.92,-0.87,-0.7,-0.5,-0.37,-0.2,-0.02,0,0.2,0.5,0.7,1,1.2,1.33,1.4,1.5],"range":["#f0f0f0","#b5a9b8","#a080b8","#a060b8","#b030e0","#b000f0","#8000ff","#3030ff","#0050ff","#00a0ff","#00ffff","#10e860","#60ff30","#e0ff10","#ffe000","#ffa000","#ff5000","#ff0000","#d80000","#c00000"]}},
    "stroke":{"field":"v","type":"quantitative","legend":null,"scale":{"domain":[-1.5,-1.35,-1.15,-1,-0.92,-0.87,-0.7,-0.5,-0.37,-0.2,-0.02,0,0.2,0.5,0.7,1,1.2,1.33,1.4,1.5],"range":["#f0f0f0","#b5a9b8","#a080b8","#a060b8","#b030e0","#b000f0","#8000ff","#3030ff","#0050ff","#00a0ff","#00ffff","#10e860","#60ff30","#e0ff10","#ffe000","#ffa000","#ff5000","#ff0000","#d80000","#c00000"]}}}},
   {"data":{"name":"sol"},"mark":{"type":"line","color":"black","strokeWidth":2.5,"clip":true},"encoding":{"detail":{"field":"g"},"x":{"field":"x","type":"quantitative","axis":{"orient":"top","values":[10,20],"labels":false,"title":null,"domain":false,"grid":false,"tickSize":-6,"tickColor":"#555"}},"y":{"field":"y","type":"quantitative","axis":{"orient":"right","values":[-20,-15,-10,-5,0,5,10,15,20],"labels":false,"title":null,"domain":false,"grid":false,"tickSize":-6,"tickColor":"#555"}}}},
   {"data":{"name":"dash"},"mark":{"type":"line","color":"black","strokeWidth":2.5,"strokeDash":[8,6],"clip":true},"encoding":{"x":{"field":"x","type":"quantitative","axis":null},"y":{"field":"y","type":"quantitative","axis":null}}},
   {"data":{"values":[{"x":14.4,"y":25.9}]},"mark":{"type":"point","filled":true,"color":"black","size":6,"opacity":1},"encoding":{"x":{"field":"x","type":"quantitative","axis":null},"y":{"field":"y","type":"quantitative","axis":null}}},
   {"data":{"values":[{"x":1.5,"y":23.6,"t":"(c)\u00a0\u00a0U from phase"},{"x":1.5,"y":21.2,"t":"B02 - B12"}]},"mark":{"type":"text","align":"left","baseline":"middle","font":"DejaVu Sans","fontWeight":"bold","fontSize":20,"color":"black"},"encoding":{"x":{"field":"x","type":"quantitative","axis":null},"y":{"field":"y","type":"quantitative","axis":null},"text":{"field":"t"}}}
  ]},
  {"width":27,"height":524,"view":{"stroke":"#666","strokeWidth":1},"data":{"name":"bar"},"transform":[{"calculate":"datum.v+0.05","as":"v2"}],"mark":{"type":"rect","strokeWidth":0.5,"clip":true},
   "encoding":{"y":{"field":"v","type":"quantitative","scale":{"domain":[-1.5,1.5],"nice":false},"axis":{"orient":"right","values":[-1.5,-1,-0.5,0,0.5,1,1.5],"labelExpr":"''+datum.value","title":null,"domain":false,"grid":false,"tickSize":-3,"tickColor":"#555","labelFont":"DejaVu Sans","labelFontSize":18,"labelColor":"#444","labelPadding":10}},"y2":{"field":"v2"},
    "color":{"field":"v","type":"quantitative","legend":null,"scale":{"domain":[-1.5,-1.35,-1.15,-1,-0.92,-0.87,-0.7,-0.5,-0.37,-0.2,-0.02,0,0.2,0.5,0.7,1,1.2,1.33,1.4,1.5],"range":["#f0f0f0","#b5a9b8","#a080b8","#a060b8","#b030e0","#b000f0","#8000ff","#3030ff","#0050ff","#00a0ff","#00ffff","#10e860","#60ff30","#e0ff10","#ffe000","#ffa000","#ff5000","#ff0000","#d80000","#c00000"]}},
    "stroke":{"field":"v","type":"quantitative","legend":null,"scale":{"domain":[-1.5,-1.35,-1.15,-1,-0.92,-0.87,-0.7,-0.5,-0.37,-0.2,-0.02,0,0.2,0.5,0.7,1,1.2,1.33,1.4,1.5],"range":["#f0f0f0","#b5a9b8","#a080b8","#a060b8","#b030e0","#b000f0","#8000ff","#3030ff","#0050ff","#00a0ff","#00ffff","#10e860","#60ff30","#e0ff10","#ffe000","#ffa000","#ff5000","#ff0000","#d80000","#c00000"]}}}}
  ]}
 ]}
]},
{"bounds":"flush","spacing":64.5,"resolve":{"scale":{"color":"independent","stroke":"independent"}},"hconcat":[
 {"width":260,"height":520,"resolve":{"axis":{"x":"independent","y":"independent"}},"layer":[
   {"data":{"name":"d"},"transform":[{"calculate":"datum.x>=22?24.5:datum.x+2","as":"x2"},{"calculate":"min(datum.y+2,24.5)","as":"y2"}],"mark":{"type":"rect","strokeWidth":0.6,"clip":true},
    "encoding":{"x":{"field":"x","type":"quantitative","scale":{"domain":[-0.1,25],"nice":false},"axis":{"values":[10,20],"labels":false,"title":null,"domain":false,"grid":false,"tickSize":-6,"tickColor":"#555"}},"x2":{"field":"x2"},
    "y":{"field":"y","type":"quantitative","scale":{"domain":[-24.8,24.8],"nice":false},"axis":{"values":[-20,-15,-10,-5,0,5,10,15,20],"labels":false,"title":null,"domain":false,"grid":false,"tickSize":-6,"tickColor":"#555"}},"y2":{"field":"y2"},
    "color":{"field":"v","type":"quantitative","legend":null,"scale":{"domain":[0,1,2,3,4,5,6,7,8,9],"range":["#352a87","#1a5cdc","#0f78dc","#0d97d2","#0aa9c4","#1fb5a8","#6cbd85","#b5bd66","#fcc234","#f9fb0e"]}},
    "stroke":{"field":"v","type":"quantitative","legend":null,"scale":{"domain":[0,1,2,3,4,5,6,7,8,9],"range":["#352a87","#1a5cdc","#0f78dc","#0d97d2","#0aa9c4","#1fb5a8","#6cbd85","#b5bd66","#fcc234","#f9fb0e"]}}}},
   {"data":{"name":"sol"},"mark":{"type":"line","color":"black","strokeWidth":2.5,"clip":true},"encoding":{"detail":{"field":"g"},"x":{"field":"x","type":"quantitative","axis":{"orient":"top","values":[10,20],"labels":false,"title":null,"domain":false,"grid":false,"tickSize":-6,"tickColor":"#555"}},"y":{"field":"y","type":"quantitative","axis":{"orient":"right","values":[-20,-15,-10,-5,0,5,10,15,20],"labels":false,"title":null,"domain":false,"grid":false,"tickSize":-6,"tickColor":"#555"}}}},
   {"data":{"name":"dash"},"mark":{"type":"line","color":"black","strokeWidth":2.5,"strokeDash":[8,6],"clip":true},"encoding":{"x":{"field":"x","type":"quantitative","axis":null},"y":{"field":"y","type":"quantitative","axis":null}}},
   {"data":{"values":[{"x":0.75,"y":23,"t":"(d)\u00a0\u00a0least square res."}]},"mark":{"type":"text","align":"left","baseline":"middle","font":"DejaVu Sans","fontWeight":"bold","fontSize":20,"color":"black"},"encoding":{"x":{"field":"x","type":"quantitative","axis":null},"y":{"field":"y","type":"quantitative","axis":null},"text":{"field":"t"}}}
 ]},
 {"bounds":"flush","spacing":77,"resolve":{"scale":{"color":"independent","stroke":"independent"}},"vconcat":[
  {"width":1,"height":1,"view":{"stroke":null},"data":{"values":[{"q":0}]},"mark":{"type":"point","opacity":0},"encoding":{}},
  {"width":654.5,"height":388,"view":{"stroke":null},"title":{"text":"Current (m/s)","anchor":"start","frame":"group","dx":-32,"offset":10,"font":"Liberation Sans","fontSize":18.5,"fontWeight":"bold","color":"#333"},
   "data":{"name":"pts"},"layer":[
   {"transform":[{"filter":"datum.hi!=null"}],"mark":{"type":"rule","strokeWidth":2.5,"clip":true},"encoding":{"x":{"field":"x","type":"quantitative","scale":{"domain":[8,25],"nice":false},"axis":{"values":[10,20],"format":"d","grid":true,"gridColor":"#e4e4e4","title":null,"domainColor":"#444","tickColor":"#444","tickSize":-6,"labelFont":"Liberation Sans","labelFontSize":17,"labelColor":"#444","labelPadding":12}},"y":{"field":"lo","type":"quantitative","scale":{"domain":[-1.5,1.5],"nice":false},"axis":{"values":[-1.5,-1,-0.5,0,0.5,1,1.5],"labelExpr":"abs(datum.value)==1||datum.value==0?'':''+datum.value","grid":true,"gridColor":"#e4e4e4","title":null,"domainColor":"#444","tickColor":"#444","tickSize":-6,"labelFont":"Liberation Sans","labelFontSize":17,"labelFontWeight":"bold","labelColor":"#444","labelPadding":20}},"y2":{"field":"hi"},"color":{"field":"s","type":"nominal","scale":{"domain":["r","b","k","g"],"range":["#f00000","#0000e0","#000000","#10e010"]},"legend":{"title":null,"orient":"none","legendX":267.5,"legendY":34,"padding":13,"strokeColor":"#333","fillColor":"#ffffff","labelFont":"Liberation Sans","labelFontSize":19,"labelColor":"#333","labelOffset":22,"labelLimit":220,"symbolType":"M-1,0A1,1,0,1,1,1,0A1,1,0,1,1,-1,0ZM-0.62,0A0.62,0.62,0,1,0,0.62,0A0.62,0.62,0,1,0,-0.62,0Z","symbolSize":170,"symbolStrokeWidth":0,"rowPadding":4,"labelExpr":"{'r':'U :S2 phase','b':'std(phase) < 60°)','k':'U : 3-LS','g':'U : 3-LS,\u00a0\u00a0εₘ< 0.2'}[datum.label]"}}}},
   {"transform":[{"filter":"datum.hi!=null"}],"mark":{"type":"tick","orient":"horizontal","size":21,"thickness":2.5,"clip":true,"opacity":1},"encoding":{"x":{"field":"x","type":"quantitative"},"y":{"field":"hi","type":"quantitative"},"color":{"field":"s","type":"nominal"}}},
   {"transform":[{"filter":"datum.hi!=null"}],"mark":{"type":"tick","orient":"horizontal","size":21,"thickness":2.5,"clip":true,"opacity":1},"encoding":{"x":{"field":"x","type":"quantitative"},"y":{"field":"lo","type":"quantitative"},"color":{"field":"s","type":"nominal"}}},
   {"mark":{"type":"point","filled":false,"shape":"circle","size":100,"strokeWidth":2.7,"opacity":1,"clip":true},"encoding":{"x":{"field":"x","type":"quantitative"},"y":{"field":"y","type":"quantitative"},"color":{"field":"s","type":"nominal"}}},
   {"data":{"values":[{"x":10.5,"y":1.4,"t":"(e) U for azimuth directions 108 to 118°"}]},"mark":{"type":"text","align":"left","baseline":"middle","font":"DejaVu Sans","fontWeight":"bold","fontSize":22},"encoding":{"x":{"field":"x","type":"quantitative"},"y":{"field":"y","type":"quantitative"},"text":{"field":"t"}}}
  ]}
 ]}
]}
]}
